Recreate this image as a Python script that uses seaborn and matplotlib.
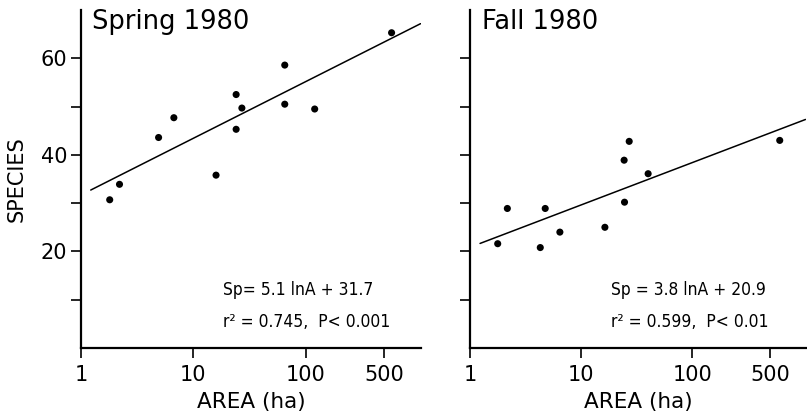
import numpy as np
import pandas as pd
import matplotlib
matplotlib.use('Agg')
import matplotlib.pyplot as plt
from matplotlib import font_manager
import seaborn as sns

# values
spring_area = [1.8, 2.2, 4.9, 6.7, 15.9, 24, 24, 27, 65, 65, 120, 580]
spring_species = [30.7, 33.9, 43.6, 47.7, 35.8, 45.3, 52.5, 49.7, 58.6, 50.5, 49.5, 65.3]
fall_area = [1.76, 2.15, 4.26, 4.72, 6.4, 16.3, 24.5, 24.3, 27, 40, 615]
fall_species = [21.6, 28.9, 20.8, 28.9, 24.0, 25.0, 30.2, 38.9, 42.8, 36.1, 43.0]

# Sp = a lnA + b
spring_fit = [5.1, 31.7]
fall_fit = [3.8, 20.9]
fit_range = [1.22, 1050]

titles = ['Spring 1980', 'Fall 1980']
equations = [['Sp= 5.1 lnA + 31.7', 'r² = 0.745,  P< 0.001'],
             ['Sp = 3.8 lnA + 20.9', 'r² = 0.599,  P< 0.01']]
xticks = [1, 10, 100, 500]
xticklabels = ['1', '10', '100', '500']
yticks = [10, 20, 30, 40, 50, 60]
yticklabels = ['', '20', '', '40', '', '60']

sns.set_style('ticks')
plt.rcParams['font.family'] = ['DejaVu Sans']
for k in ['text.color', 'axes.labelcolor', 'xtick.color', 'ytick.color']:
    plt.rcParams[k] = 'black'

# narrow face for the equations, if one is around
fonts = font_manager.fontManager.ttflist
names = {f.name for f in fonts}
condensed = [f for f in fonts if f.name == 'DejaVu Sans' and 'condensed' in str(f.stretch)]
if 'Liberation Sans Narrow' in names:
    eq_font = dict(family='Liberation Sans Narrow', fontsize=15)
elif condensed:
    eq_font = dict(family='DejaVu Sans', fontstretch='condensed', fontsize=12.5)
else:
    eq_font = dict(family='DejaVu Sans', fontsize=11.5)

fig = plt.figure(figsize=(8.07, 4.19), dpi=100)
ax1 = fig.add_axes([0.1004, 0.1695, 0.4213, 0.8065])
ax2 = fig.add_axes([0.583, 0.1695, 0.4157, 0.8065])

panels = [(ax1, spring_area, spring_species, spring_fit),
          (ax2, fall_area, fall_species, fall_fit)]

for i, (ax, area, species, fit) in enumerate(panels):
    df = pd.DataFrame({'area': area, 'species': species})
    sns.scatterplot(data=df, x='area', y='species', ax=ax, color='black',
                    s=26, edgecolor='none', zorder=3)
    lx = np.array(fit_range)
    line = pd.DataFrame({'area': lx, 'species': fit[0] * np.log(lx) + fit[1]})
    sns.lineplot(data=line, x='area', y='species', ax=ax, color='black', lw=1.1)

    ax.set_xscale('log')
    ax.set_xlim(1, 1060)
    ax.set_ylim(0, 70)
    ax.set_xticks(xticks)
    ax.set_xticklabels(xticklabels)
    ax.xaxis.set_minor_locator(matplotlib.ticker.NullLocator())
    ax.set_yticks(yticks)
    if i == 0:
        ax.set_yticklabels(yticklabels)
        ax.set_ylabel('SPECIES', fontsize=15, labelpad=10)
    else:
        ax.set_yticklabels([])
        ax.set_ylabel('')
    ax.set_xlabel('AREA (ha)', fontsize=15.5, labelpad=5)
    ax.tick_params(axis='both', direction='out', length=7, width=1.2,
                   labelsize=15, color='black')
    ax.tick_params(axis='x', pad=5)
    ax.tick_params(axis='y', pad=3)
    sns.despine(ax=ax)
    for sp in ['left', 'bottom']:
        ax.spines[sp].set_linewidth(1.6)
        ax.spines[sp].set_color('black')

    ax.text(0.033, 0.945, titles[i], transform=ax.transAxes, fontsize=18.5,
            va='baseline', ha='left')
    ax.text(0.418, 0.172, equations[i][0], transform=ax.transAxes,
            va='center', ha='left', **eq_font)
    ax.text(0.418, 0.077, equations[i][1], transform=ax.transAxes,
            va='center', ha='left', **eq_font)

fig.savefig('out.png', dpi=100)
